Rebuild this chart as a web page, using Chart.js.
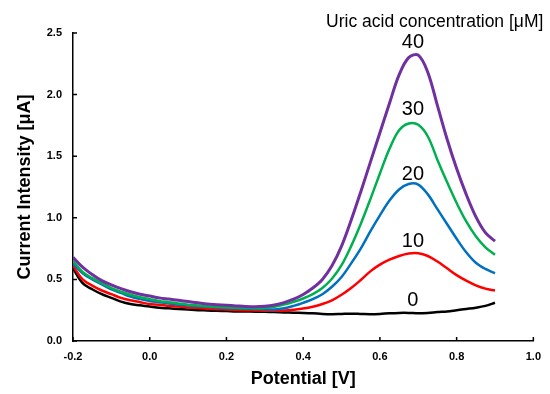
<!DOCTYPE html>
<html>
<head>
<meta charset="utf-8">
<script src="https://cdn.jsdelivr.net/npm/chart.js@4.4.1/dist/chart.umd.min.js"></script>
<style>
  body { margin: 0; background: #fff; }
</style>
</head>
<body>
<canvas id="dpv" width="550" height="394"></canvas>
<script>
const potential = [-0.2, -0.175, -0.15, -0.125, -0.1, -0.075, -0.05, -0.025, 0, 0.025, 0.05, 0.075,
  0.1, 0.125, 0.15, 0.175, 0.2, 0.225, 0.25, 0.275, 0.3, 0.325, 0.35, 0.375, 0.4, 0.425, 0.45,
  0.475, 0.5, 0.525, 0.55, 0.575, 0.6, 0.625, 0.65, 0.675, 0.7, 0.725, 0.75, 0.775, 0.8, 0.825,
  0.85, 0.875, 0.9];

const ua_0 = [0.59, 0.47, 0.42, 0.38, 0.35, 0.32, 0.30, 0.29, 0.28, 0.27, 0.265, 0.26,
  0.255, 0.25, 0.248, 0.245, 0.243, 0.24, 0.24, 0.238, 0.237, 0.235, 0.232, 0.23, 0.228, 0.225, 0.22,
  0.218, 0.22, 0.222, 0.22, 0.218, 0.22, 0.225, 0.228, 0.228, 0.225, 0.228, 0.235, 0.24, 0.25, 0.26,
  0.27, 0.285, 0.31];

const ua_10 = [0.61, 0.50, 0.45, 0.41, 0.38, 0.35, 0.33, 0.315, 0.30, 0.295, 0.285, 0.28,
  0.272, 0.268, 0.262, 0.258, 0.256, 0.252, 0.25, 0.248, 0.246, 0.246, 0.248, 0.254, 0.263, 0.278, 0.30,
  0.33, 0.375, 0.43, 0.495, 0.565, 0.62, 0.66, 0.69, 0.71, 0.712, 0.69, 0.645, 0.59, 0.535, 0.49,
  0.452, 0.425, 0.41];

const ua_20 = [0.63, 0.55, 0.50, 0.46, 0.42, 0.39, 0.36, 0.34, 0.325, 0.315, 0.305, 0.295,
  0.288, 0.282, 0.277, 0.272, 0.268, 0.265, 0.262, 0.26, 0.258, 0.255, 0.265, 0.285, 0.31, 0.34, 0.38,
  0.44, 0.52, 0.63, 0.75, 0.89, 1.02, 1.14, 1.23, 1.275, 1.27, 1.19, 1.07, 0.95, 0.83, 0.72,
  0.635, 0.585, 0.55];

const ua_30 = [0.65, 0.56, 0.51, 0.47, 0.43, 0.40, 0.375, 0.355, 0.34, 0.325, 0.315, 0.305,
  0.295, 0.288, 0.282, 0.278, 0.274, 0.27, 0.268, 0.266, 0.268, 0.278, 0.295, 0.318, 0.345, 0.38, 0.43,
  0.505, 0.615, 0.77, 0.95, 1.15, 1.36, 1.56, 1.71, 1.765, 1.755, 1.66, 1.47, 1.29, 1.12, 0.97,
  0.85, 0.76, 0.70];

const ua_40 = [0.68, 0.60, 0.54, 0.49, 0.455, 0.425, 0.40, 0.38, 0.365, 0.35, 0.34, 0.33,
  0.32, 0.31, 0.30, 0.295, 0.29, 0.285, 0.28, 0.278, 0.282, 0.293, 0.312, 0.34, 0.378, 0.43, 0.50,
  0.61, 0.77, 0.98, 1.21, 1.45, 1.69, 1.93, 2.16, 2.30, 2.32, 2.18, 1.91, 1.64, 1.40, 1.19,
  1.01, 0.88, 0.81];

const concLabels = ['0', '10', '20', '30', '40'];
const labelY = [0.284, 0.763, 1.307, 1.834, 2.378];
const labelX = 0.686;

const xTicks = [-0.2, 0, 0.2, 0.4, 0.6, 0.8, 1.0];
const yTicks = [0, 0.5, 1.0, 1.5, 2.0, 2.5];

function pts(ys) {
  return potential.map((x, i) => ({ x: x, y: ys[i] }));
}

function line(ys, color, width, order) {
  return {
    data: pts(ys),
    borderColor: color,
    borderWidth: width,
    pointRadius: 0,
    fill: false,
    tension: 0.35,
    order: order
  };
}

function fmt(v) {
  return Math.abs(v) < 1e-9 ? '0.0' : v.toFixed(1);
}

const tickFont = { family: 'Liberation Sans, Arial, sans-serif', size: 11, weight: 'bold' };
const titleFont = { family: 'Liberation Sans, Arial, sans-serif', size: 18, weight: 'bold' };

// inward tick marks + curve labels
const extras = {
  id: 'extras',
  afterDraw(chart) {
    const ctx = chart.ctx;
    const xs = chart.scales.x, ys = chart.scales.y;
    ctx.save();
    ctx.strokeStyle = '#000';
    ctx.lineWidth = 1.5;
    ctx.beginPath();
    xTicks.forEach(v => {
      const px = xs.getPixelForValue(v);
      ctx.moveTo(px, ys.bottom);
      ctx.lineTo(px, ys.bottom - 4);
    });
    yTicks.forEach(v => {
      const py = ys.getPixelForValue(v);
      ctx.moveTo(xs.left, py);
      ctx.lineTo(xs.left + 4, py);
    });
    ctx.stroke();

    ctx.fillStyle = '#000';
    ctx.textAlign = 'center';
    ctx.textBaseline = 'alphabetic';
    ctx.font = '20px "Liberation Sans", Arial, sans-serif';
    concLabels.forEach((t, i) => {
      ctx.fillText(t, xs.getPixelForValue(labelX), ys.getPixelForValue(labelY[i]));
    });

    ctx.font = '17.5px "Liberation Sans", Arial, sans-serif';
    ctx.textAlign = 'right';
    ctx.fillText('Uric acid concentration [μM]', xs.right + 10, 27);
    ctx.restore();
  }
};

new Chart(document.getElementById('dpv'), {
  type: 'line',
  data: {
    datasets: [
      line(ua_0, '#000000', 2.5, 4),
      line(ua_10, '#FF0000', 2.5, 3),
      line(ua_20, '#0070C0', 2.5, 2),
      line(ua_30, '#00B050', 2.5, 1),
      line(ua_40, '#7030A0', 3, 0)
    ]
  },
  options: {
    responsive: false,
    animation: false,
    devicePixelRatio: 1,
    layout: { padding: { top: 33, right: 15, left: 0, bottom: 0 } },
    plugins: {
      legend: { display: false },
      tooltip: { enabled: false }
    },
    scales: {
      x: {
        type: 'linear',
        min: -0.2,
        max: 1.0,
        afterFit(scale) { scale.height = 53; },
        ticks: {
          stepSize: 0.2,
          color: '#000',
          font: tickFont,
          padding: 9,
          maxRotation: 0,
          callback: v => fmt(v)
        },
        grid: { display: false, drawTicks: false },
        border: { display: true, color: '#000', width: 1.5 },
        title: {
          display: true,
          text: 'Potential [V]',
          color: '#000',
          font: titleFont,
          padding: { top: 0, bottom: 4 }
        }
      },
      y: {
        min: 0,
        max: 2.5,
        afterFit(scale) { scale.width = 73; },
        ticks: {
          stepSize: 0.5,
          color: '#000',
          font: tickFont,
          padding: 11,
          callback: v => fmt(v)
        },
        grid: { display: false, drawTicks: false },
        border: { display: true, color: '#000', width: 1.5 },
        title: {
          display: true,
          text: 'Current Intensity [μA]',
          color: '#000',
          font: titleFont,
          padding: { top: 14, bottom: 0 }
        }
      }
    }
  },
  plugins: [extras]
});
</script>
</body>
</html>
